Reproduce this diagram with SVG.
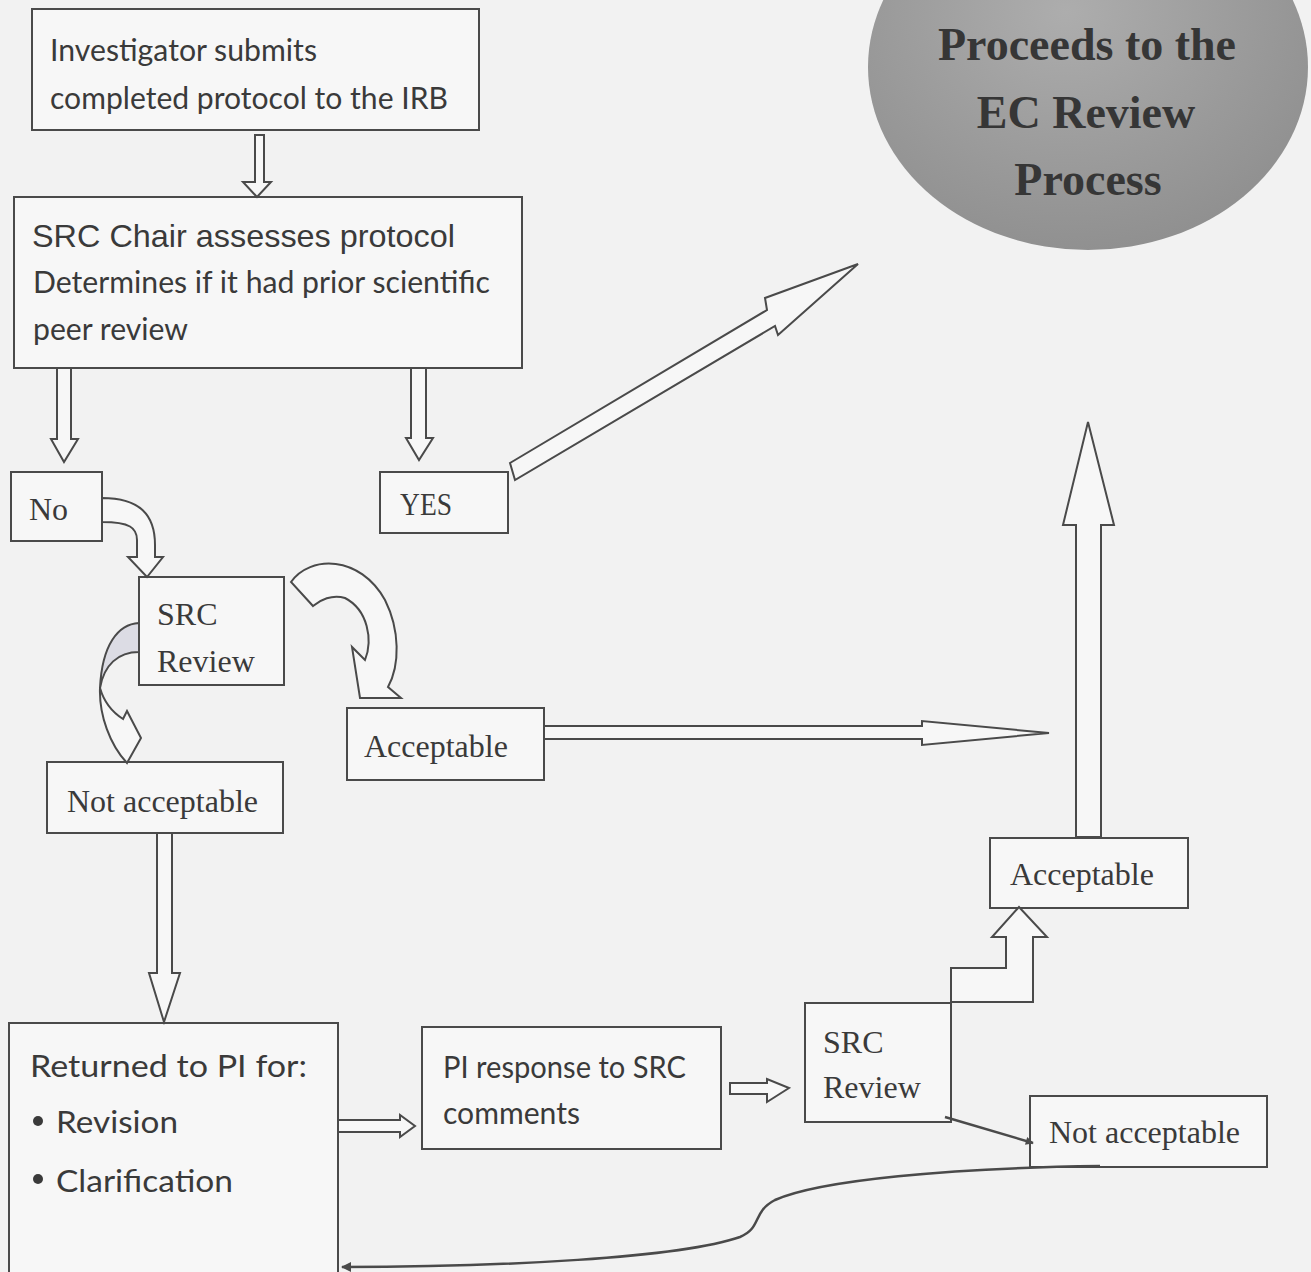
<svg xmlns="http://www.w3.org/2000/svg" width="1311" height="1272" viewBox="0 0 1311 1272">
<style>
.bg{fill:#f2f2f2}
.box{fill:#f7f7f7;stroke:#4a4a4a;stroke-width:2}
.arr{fill:#f7f7f7;stroke:#4a4a4a;stroke-width:2;stroke-linejoin:miter}
.line{fill:none;stroke:#4a4a4a;stroke-width:2.5}
.cal{font-family:Lato,"Open Sans","Liberation Sans",sans-serif;font-size:30px;fill:#3a3a3a}
.ari{font-family:"Liberation Sans",Arial,sans-serif;font-size:32px;fill:#3a3a3a}
.tim{font-family:"Liberation Serif","Times New Roman",serif;font-size:32px;fill:#3a3a3a}
.ec{font-family:"Liberation Serif","Times New Roman",serif;font-size:46px;font-weight:bold;fill:#363636;text-anchor:middle}
</style>
<defs>
<radialGradient id="sph" cx="0.45" cy="0.35" r="0.7">
<stop offset="0" stop-color="#adadad"/>
<stop offset="1" stop-color="#8e8e8e"/>
</radialGradient>
<marker id="ah" viewBox="0 0 10 10" refX="9" refY="5" markerWidth="9" markerHeight="8" orient="auto" markerUnits="userSpaceOnUse">
<path d="M0,0 L10,5 L0,10 Z" fill="#4a4a4a"/>
</marker>
<marker id="ah2" viewBox="0 0 10 10" refX="9" refY="5" markerWidth="12" markerHeight="10" orient="auto" markerUnits="userSpaceOnUse">
<path d="M0,0 L10,5 L0,10 Z" fill="#4a4a4a"/>
</marker>
</defs>
<rect class="bg" x="0" y="0" width="1311" height="1272"/>

<g id="ec-process">
<ellipse cx="1088" cy="67" rx="220" ry="183" fill="url(#sph)"/>
<text class="ec" x="1087" y="60">Proceeds to the</text>
<text class="ec" x="1086" y="128">EC Review</text>
<text class="ec" x="1088" y="195">Process</text>
</g>

<g id="investigator">
<rect class="box" x="32" y="9" width="447" height="121"/>
<text class="cal" x="50" y="61" textLength="267" lengthAdjust="spacingAndGlyphs">Investigator submits</text>
<text class="cal" x="50" y="109" textLength="398" lengthAdjust="spacingAndGlyphs">completed protocol to the IRB</text>
</g>

<g id="src-chair">
<rect class="box" x="14" y="197" width="508" height="171"/>
<text class="ari" x="32" y="247" textLength="423" lengthAdjust="spacingAndGlyphs">SRC Chair assesses protocol</text>
<text class="cal" x="33" y="293" textLength="457" lengthAdjust="spacingAndGlyphs">Determines if it had prior scientific</text>
<text class="cal" x="33" y="340" textLength="155" lengthAdjust="spacingAndGlyphs">peer review</text>
</g>

<g id="no">
<rect class="box" x="11" y="472" width="91" height="69"/>
<text class="tim" x="29" y="520">No</text>
</g>

<g id="yes">
<rect class="box" x="380" y="472" width="128" height="61"/>
<text class="tim" x="400" y="515" textLength="52" lengthAdjust="spacingAndGlyphs">YES</text>
</g>

<g id="src-review-1">
<rect class="box" x="139" y="577" width="145" height="108"/>
<text class="tim" x="157" y="625">SRC</text>
<text class="tim" x="157" y="672">Review</text>
</g>

<g id="acceptable-1">
<rect class="box" x="347" y="708" width="197" height="72"/>
<text class="tim" x="364" y="757">Acceptable</text>
</g>

<g id="not-acceptable-1">
<rect class="box" x="47" y="762" width="236" height="71"/>
<text class="tim" x="67" y="812">Not acceptable</text>
</g>

<g id="returned">
<rect class="box" x="9" y="1023" width="329" height="270"/>
<text class="cal" x="30" y="1077" font-size="34" textLength="277" lengthAdjust="spacingAndGlyphs">Returned to PI for:</text>
<circle cx="38" cy="1121" r="5" fill="#3a3a3a"/>
<text class="cal" x="56" y="1133" font-size="34" textLength="122" lengthAdjust="spacingAndGlyphs">Revision</text>
<circle cx="38" cy="1179" r="5" fill="#3a3a3a"/>
<text class="cal" x="56" y="1192" font-size="34" textLength="177" lengthAdjust="spacingAndGlyphs">Clarification</text>
</g>

<g id="pi-response">
<rect class="box" x="422" y="1027" width="299" height="122"/>
<text class="cal" x="443" y="1078" textLength="243" lengthAdjust="spacingAndGlyphs">PI response to SRC</text>
<text class="cal" x="443" y="1124" textLength="137" lengthAdjust="spacingAndGlyphs">comments</text>
</g>

<g id="src-review-2">
<rect class="box" x="805" y="1003" width="146" height="119"/>
<text class="tim" x="823" y="1053">SRC</text>
<text class="tim" x="823" y="1098">Review</text>
</g>

<g id="acceptable-2">
<rect class="box" x="990" y="838" width="198" height="70"/>
<text class="tim" x="1010" y="885">Acceptable</text>
</g>

<g id="not-acceptable-2">
<rect class="box" x="1030" y="1096" width="237" height="71"/>
<text class="tim" x="1049" y="1143">Not acceptable</text>
</g>

<g id="connectors">
<polygon class="arr" points="255,135 264,135 264,182 271,182 257,197 243,182 255,182"/>
<polygon class="arr" points="57,368 71,368 71,439 78,439 64,462 51,439 57,439"/>
<polygon class="arr" points="411,368 426,368 426,438 433,438 419,460 406,438 411,438"/>
<polygon class="arr" points="510,463 767,310 765,298 858,264 778,335 775,326 515,480"/>
<path class="arr" d="M102,498 C140,498 155,515 155,545 L155,557 L163,557 L147,577 L128,557 L137,557 L137,540 C137,528 130,522 102,522 Z"/>
<path class="arr" d="M291,582 C310,555 360,555 385,600 C400,630 400,665 388,687 L401,698 L360,698 L352,647 L365,660 C373,640 368,610 345,598 C332,594 320,600 313,606 Z"/>
<path d="M139,623 C118,624 102,645 100,688 C104,665 118,652 139,652 Z" fill="#dcdce4" stroke="#4a4a4a" stroke-width="2"/>
<path class="arr" d="M100,688 C99,715 110,745 127,763 L141,738 L127,711 L123,719 C112,712 104,702 100,688 Z"/>
<polygon class="arr" points="544,726 922,726 922,721 1049,733 922,745 922,739 544,739"/>
<polygon class="arr" points="1076,837 1076,525 1063,525 1088,422 1114,525 1101,525 1101,837"/>
<polygon class="arr" points="951,1002 951,968 1006,968 1006,937 992,937 1019,907 1047,937 1033,937 1033,1002"/>
<polygon class="arr" points="157,833 172,833 172,973 180,973 164,1022 149,973 157,973"/>
<polygon class="arr" points="338,1120 400,1120 400,1115 415,1126 400,1137 400,1132 338,1132"/>
<polygon class="arr" points="730,1083 767,1083 767,1079 789,1088 767,1102 767,1094 730,1094"/>
<line class="line" x1="945" y1="1117" x2="1033" y2="1143" marker-end="url(#ah)"/>
<path class="line" d="M1100,1166 C950,1168 820,1180 775,1200 C752,1212 762,1228 740,1237 C680,1258 500,1267 342,1267" marker-end="url(#ah2)"/>
</g>
</svg>
